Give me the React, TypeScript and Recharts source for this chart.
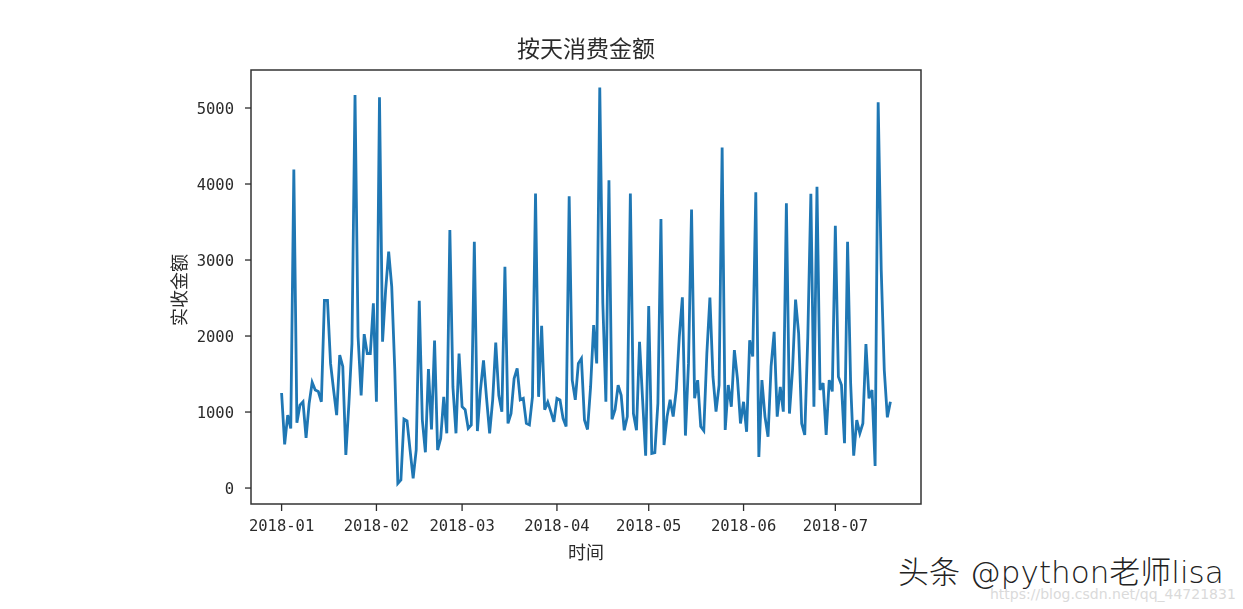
// App.tsx
import React from 'react';
import { LineChart, Line, XAxis, YAxis, ReferenceArea } from 'recharts';

const FONT = '"Noto Sans CJK SC", "DejaVu Sans", sans-serif';
const TICK_FONT = '"DejaVu Sans Mono", "Liberation Mono", monospace';
const TEXT = '#2b2b2b';

const DAY = 86400000;
const firstDay = Date.UTC(2018, 0, 1);

// daily amounts, 2018-01-01 to 2018-07-19
const amounts = [
  1250, 575, 960, 785, 4190, 860, 1090, 1135, 660, 1110,
  1390, 1290, 1270, 1135, 2470, 2470, 1640, 1290, 960, 1750,
  1600, 435, 1110, 1900, 5170, 1990, 1220, 2025, 1770, 1770,
  2430, 1135, 5140, 1925, 2600, 3110, 2650, 1550, 60, 105,
  908, 885, 500, 127, 500, 2465, 895, 470, 1565, 770,
  1940, 500, 650, 1200, 720, 3395, 1330, 720, 1770, 1070,
  1030, 785, 830, 3240, 750, 1290, 1680, 1180, 720, 1160,
  1915, 1220, 1005, 2910, 850, 980, 1440, 1575, 1160, 1180,
  850, 830, 1200, 3875, 1200, 2135, 1030, 1130, 1005, 870,
  1180, 1160, 915, 810, 3840, 1420, 1160, 1640, 1705, 895,
  770, 1330, 2145, 1640, 5270, 2430, 1135, 4050, 905, 1030,
  1355, 1220, 760, 940, 3875, 980, 760, 1925, 1160, 425,
  2395, 455, 465, 1115, 3540, 565, 940, 1160, 940, 1290,
  1990, 2510, 690, 1640, 3665, 1180, 1420, 810, 755, 1770,
  2505, 1465, 1005, 1355, 4480, 765, 1355, 1070, 1815, 1440,
  850, 1135, 740, 1945, 1730, 3890, 410, 1420, 940, 675,
  1600, 2055, 940, 1330, 1005, 3745, 980, 1550, 2480, 2035,
  850, 700, 1990, 3870, 1070, 3965, 1290, 1380, 700, 1420,
  1270, 3450, 1465, 1355, 590, 3240, 1380, 425, 895, 720,
  850, 1895, 1180, 1290, 290, 5075, 2870, 1550, 930, 1135,
];

const xTickLabels = ['2018-01', '2018-02', '2018-03', '2018-04', '2018-05', '2018-06', '2018-07'];
const yTicks = [0, 1000, 2000, 3000, 4000, 5000];

const xTicks = xTickLabels.map((m) => Date.parse(m + '-01T00:00:00Z'));
const tableData = amounts.map((amount, i) => ({ date: firstDay + i * DAY, amount }));

const xMin = firstDay - 10 * DAY;
const xMax = firstDay + 209 * DAY;
const yMin = -210;
const yMax = 5500;

const formatXAxis = (t: number) => new Date(t).toISOString().substring(0, 7);

export default function App() {
  return (
    <div style={{ position: 'absolute', left: 0, top: 0, width: 1243, height: 609, background: '#fff', overflow: 'hidden' }}>
      <div style={{ filter: 'blur(0.5px)' }}>
        <LineChart
          width={1243}
          height={609}
          data={tableData}
          margin={{ top: 70, right: 322, left: 0, bottom: 0 }}
        >
          <XAxis
            dataKey="date"
            type="number"
            scale="linear"
            domain={[xMin, xMax]}
            ticks={xTicks}
            tickFormatter={formatXAxis}
            height={105}
            axisLine={false}
            tickLine={{ stroke: TEXT, strokeWidth: 1.3 }}
            tickSize={7}
            tickMargin={9}
            tick={{ fill: TEXT, fontSize: 15.5, fontFamily: TICK_FONT }}
            interval={0}
            label={{ value: '时间', position: 'insideTop', offset: 42, fill: TEXT, fontSize: 18, fontFamily: FONT }}
          />
          <YAxis
            type="number"
            domain={[yMin, yMax]}
            ticks={yTicks}
            width={251}
            axisLine={false}
            tickLine={{ stroke: TEXT, strokeWidth: 1.3 }}
            tickSize={6}
            tickMargin={11}
            tick={{ fill: TEXT, fontSize: 15.5, fontFamily: TICK_FONT }}
            interval={0}
            label={{ value: '实收金额', angle: -90, position: 'center', dx: 54, dy: 3, fill: TEXT, fontSize: 18, fontFamily: FONT }}
          />
          <Line
            type="linear"
            dataKey="amount"
            stroke="#1f77b4"
            strokeWidth={2.8}
            dot={false}
            isAnimationActive={false}
          />
          <ReferenceArea x1={xMin} x2={xMax} y1={yMin} y2={yMax} fill="none" stroke="#333" strokeWidth={1.5} fillOpacity={0} />
        </LineChart>
      </div>
      <div style={{ position: 'absolute', left: 336, width: 500, top: 32, textAlign: 'center', fontFamily: FONT, fontSize: 23, lineHeight: '30px', color: TEXT, filter: 'blur(0.4px)' }}>
        按天消费金额
      </div>
      <div style={{ position: 'absolute', left: 990, top: 586, fontFamily: '"DejaVu Sans", sans-serif', fontSize: 14, lineHeight: '16px', color: '#dadada', whiteSpace: 'nowrap' }}>
        https://blog.csdn.net/qq_44721831
      </div>
      <div style={{ position: 'absolute', left: 898, top: 553, fontFamily: '"DejaVu Sans", "Noto Sans CJK SC", sans-serif', fontWeight: 300, fontSize: 31, lineHeight: '38px', color: '#222', whiteSpace: 'nowrap' }}>
        头条 @python老师lisa
      </div>
    </div>
  );
}
